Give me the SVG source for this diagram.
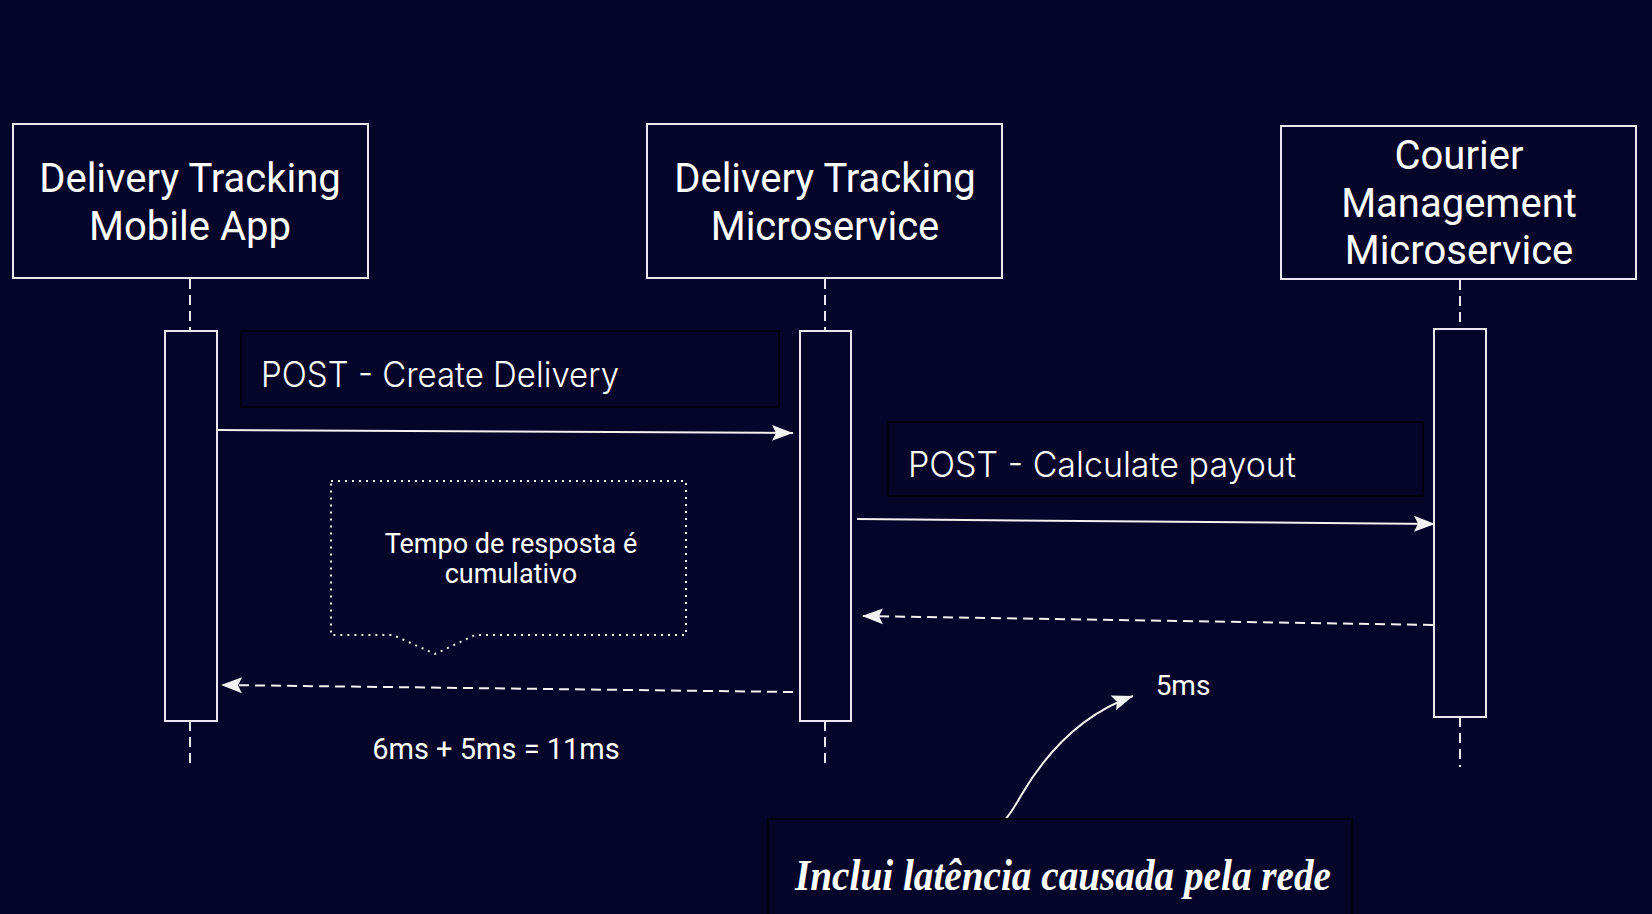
<svg xmlns="http://www.w3.org/2000/svg" width="1652" height="914" viewBox="0 0 1652 914">
<style>
.bg{fill:#05052a}
.node{fill:#05052a;stroke:#e8e8ee;stroke-width:2}
.lbl{fill:#05052a;stroke:#000008;stroke-width:2}
.title{font-family:Roboto,"Liberation Sans",sans-serif;font-size:40px;fill:#ffffff;text-anchor:middle}
.msg{font-family:Inter,"Open Sans",Roboto,sans-serif;font-weight:300;font-size:35px;fill:#ffffff}
.note{font-family:Roboto,"Liberation Sans",sans-serif;font-size:27px;fill:#ffffff;text-anchor:middle}
.life{stroke:#e8e8ee;stroke-width:2;stroke-dasharray:10 6;fill:none}
.solid{stroke:#f2f2f2;stroke-width:2;fill:none}
.dash{stroke:#f2f2f2;stroke-width:2;stroke-dasharray:10 6;fill:none}
.dots{fill:none;stroke:#f0f0f0;stroke-width:2;stroke-dasharray:2 5}
.hand{font-family:"Liberation Serif",serif;font-style:italic;font-weight:bold;font-size:44px;fill:#ffffff}
</style>
<defs>
<marker id="ah" markerUnits="userSpaceOnUse" markerWidth="24" markerHeight="20" refX="21" refY="10" orient="auto">
<path d="M0,2 L21,10 L0,18 L4,10 Z" fill="#f2f2f2"/>
</marker>
</defs>
<rect class="bg" x="0" y="0" width="1652" height="914"/>

<g id="lifelines">
<line class="life" x1="190" y1="279" x2="190" y2="331"/>
<line class="life" x1="190" y1="721" x2="190" y2="767"/>
<line class="life" x1="825" y1="279" x2="825" y2="331"/>
<line class="life" x1="825" y1="721" x2="825" y2="767"/>
<line class="life" x1="1460" y1="280" x2="1460" y2="329"/>
<line class="life" x1="1460" y1="717" x2="1460" y2="767"/>
</g>

<g id="node-mobile">
<rect class="node" x="13" y="124" width="355" height="154"/>
<text class="title" x="190" y="192">Delivery Tracking</text>
<text class="title" x="190" y="240">Mobile App</text>
</g>
<g id="node-delivery">
<rect class="node" x="647" y="124" width="355" height="154"/>
<text class="title" x="825" y="192">Delivery Tracking</text>
<text class="title" x="825" y="240">Microservice</text>
</g>
<g id="node-courier">
<rect class="node" x="1281" y="126" width="355" height="153"/>
<text class="title" x="1459" y="169">Courier</text>
<text class="title" x="1459" y="217">Management</text>
<text class="title" x="1459" y="264">Microservice</text>
</g>

<g id="activations">
<rect class="node" x="165" y="331" width="52" height="390"/>
<rect class="node" x="800" y="331" width="51" height="390"/>
<rect class="node" x="1434" y="329" width="52" height="388"/>
</g>

<g id="label-create">
<rect class="lbl" x="241" y="331" width="538" height="76"/>
<text class="msg" x="261" y="387" textLength="358" lengthAdjust="spacingAndGlyphs">POST - Create Delivery</text>
</g>
<g id="label-payout">
<rect class="lbl" x="888" y="422" width="535" height="74"/>
<text class="msg" x="908" y="477" textLength="388" lengthAdjust="spacingAndGlyphs">POST - Calculate payout</text>
</g>

<g id="connectors">
<line class="solid" x1="218" y1="430" x2="793" y2="433" marker-end="url(#ah)"/>
<line class="solid" x1="857" y1="519" x2="1435" y2="524" marker-end="url(#ah)"/>
<line class="dash" x1="1433" y1="625" x2="862" y2="616" marker-end="url(#ah)"/>
<line class="dash" x1="793" y1="692" x2="221" y2="685" marker-end="url(#ah)"/>
<path class="solid" d="M1004,821 C1012,812 1016,804 1022,794 C1045,755 1080,715 1133,696" marker-end="url(#ah)"/>
</g>

<g id="callout">
<path class="dots" d="M331,481 L686,481 L686,635 L475,635 L435,654 L393,635 L331,635 Z"/>
<text class="note" x="511" y="553">Tempo de resposta é</text>
<text class="note" x="511" y="583">cumulativo</text>
</g>

<g id="time-total">
<text class="note" x="496" y="759" style="font-size:29px">6ms + 5ms = 11ms</text>
</g>
<g id="time-5ms">
<text class="note" x="1183" y="695" style="font-size:28px">5ms</text>
</g>

<g id="note-latency">
<rect class="lbl" x="768" y="819" width="584" height="110"/>
<text class="hand" x="795" y="890" textLength="536" lengthAdjust="spacingAndGlyphs">Inclui latência causada pela rede</text>
</g>
</svg>
